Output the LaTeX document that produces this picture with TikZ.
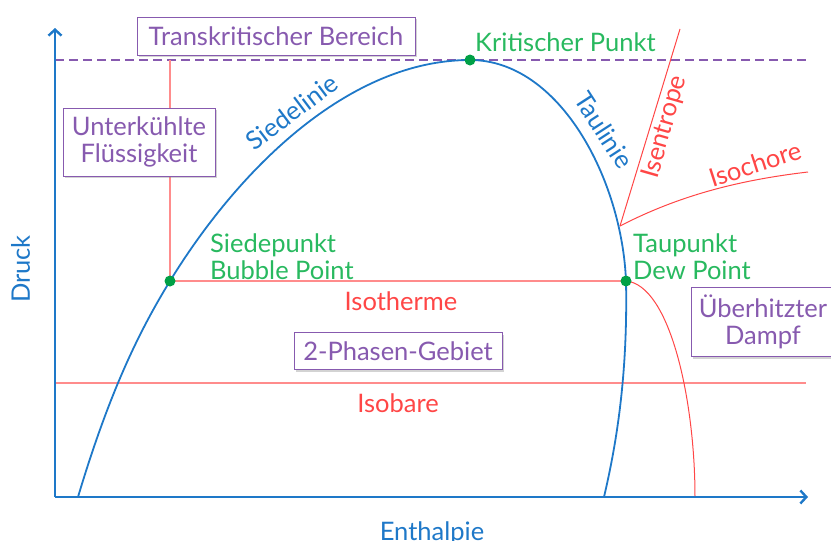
\documentclass[tikz,border=0pt]{standalone}
\usepackage{fontspec}
\setmainfont{Lato}
\usetikzlibrary{shadows,arrows.meta}
\definecolor{cblue}{RGB}{30,120,200}
\definecolor{cgreen}{RGB}{40,185,95}
\definecolor{cdot}{RGB}{0,160,70}
\definecolor{cpurple}{RGB}{135,90,175}
\definecolor{cred}{RGB}{255,70,70}
\definecolor{cpink}{RGB}{255,140,140}
\tikzset{
  axisline/.style={cblue, line width=2.6pt, -{Straight Barb[length=6pt,width=13pt,line width=2.4pt]}},
  dome/.style={cblue, line width=1.8pt},
  redline/.style={cpink, line width=1.4pt},
  redcurve/.style={cred, line width=1pt},
  labelbox/.style={draw=cpurple, line width=0.9pt, fill=white, text=cpurple, align=center,
    drop shadow={shadow xshift=2pt, shadow yshift=-2pt, opacity=0.35}},
  greentext/.style={text=cgreen, align=left, inner sep=0pt},
  bluetext/.style={text=cblue, inner sep=0pt},
  redtext/.style={text=cred, inner sep=0pt},
  dot/.style={circle, fill=cdot, inner sep=0pt, minimum size=11pt},
}
\begin{document}
\begin{tikzpicture}[x=1pt,y=-1pt, font=\fontsize{25.5}{27}\selectfont]
\useasboundingbox (0,0) rectangle (831,541);
% coordinates
\coordinate (O) at (55,497);
\coordinate (ytop) at (55,28);
\coordinate (xend) at (808,497);
\coordinate (K) at (470,60);
\coordinate (B) at (170,281);
\coordinate (D) at (626,281);
\coordinate (L0) at (78,497);
\coordinate (R0) at (604,497);
\coordinate (dl) at (55,60);
\coordinate (dr) at (806,60);
\coordinate (vt) at (170,60);
\coordinate (ibl) at (55,383);
\coordinate (ibr) at (806,383);
\coordinate (itend) at (695,497);
\coordinate (S) at (620,226);
\coordinate (isen) at (680,29);
\coordinate (isoch) at (808,172);

% dashed critical pressure
\draw[cpurple, line width=1.8pt, dash pattern=on 9pt off 5pt] (dl) -- (dr);
% red lines
\draw[redline] (vt) -- (B);
\draw[redline] (B) -- (D);
\draw[redline] (ibl) -- (ibr);
\draw[redcurve] (D) .. controls (670,285) and (695,400) .. (itend);
\draw[redcurve] (S) -- (isen);
\draw[redcurve] (S) .. controls (680,195) and (740,180) .. (isoch);
% dome
\draw[dome] (L0) .. controls (110,390) and (140,330) .. (B)
  .. controls (240,167) and (350,60) .. (K)
  .. controls (560,60) and (622,180) .. (D)
  .. controls (628,380) and (615,450) .. (R0);
% axes
\draw[axisline] (O) -- (ytop);
\draw[axisline] (O) -- (xend);

% boxes
\node[labelbox, minimum width=278pt, minimum height=38pt] (tb) at (276,36) {Transkritischer Bereich};
\node[labelbox, minimum width=152pt, minimum height=68pt] (uf) at (139,142) {Unterkühlte\\Flüssigkeit};
\node[labelbox, minimum width=208pt, minimum height=37pt] (zp) at (398,351) {2-Phasen-Gebiet};
\node[labelbox, minimum width=144pt, minimum height=69pt] (ud) at (763,322) {Überhitzter\\Dampf};

% dots
\node[dot] (kd) at (K) {};
\node[dot] (bd) at (B) {};
\node[dot] (dd) at (D) {};

% labels
\node[greentext, anchor=base west] (kp) at (475,51) {Kritischer Punkt};
\node[greentext, anchor=west] (sp) at (210,257) {Siedepunkt\\Bubble Point};
\node[greentext, anchor=west] (tp) at (633,257) {Taupunkt\\Dew Point};
\node[bluetext, rotate=37] (sl) at (292,112) {Siedelinie};
\node[bluetext, rotate=-57] (tl) at (604,130) {Taulinie};
\node[redtext, rotate=74] (ie) at (665,127) {Isentrope};
\node[redtext, rotate=18] (ic) at (755,164) {Isochore};
\node[redtext, anchor=base] (it) at (401,310) {Isotherme};
\node[redtext, anchor=base] (ib) at (398,412) {Isobare};
\node[bluetext, rotate=90, anchor=base] (dk) at (30,269) {Druck};
\node[bluetext, anchor=base] (en) at (432,540) {Enthalpie};
\end{tikzpicture}
\end{document}
